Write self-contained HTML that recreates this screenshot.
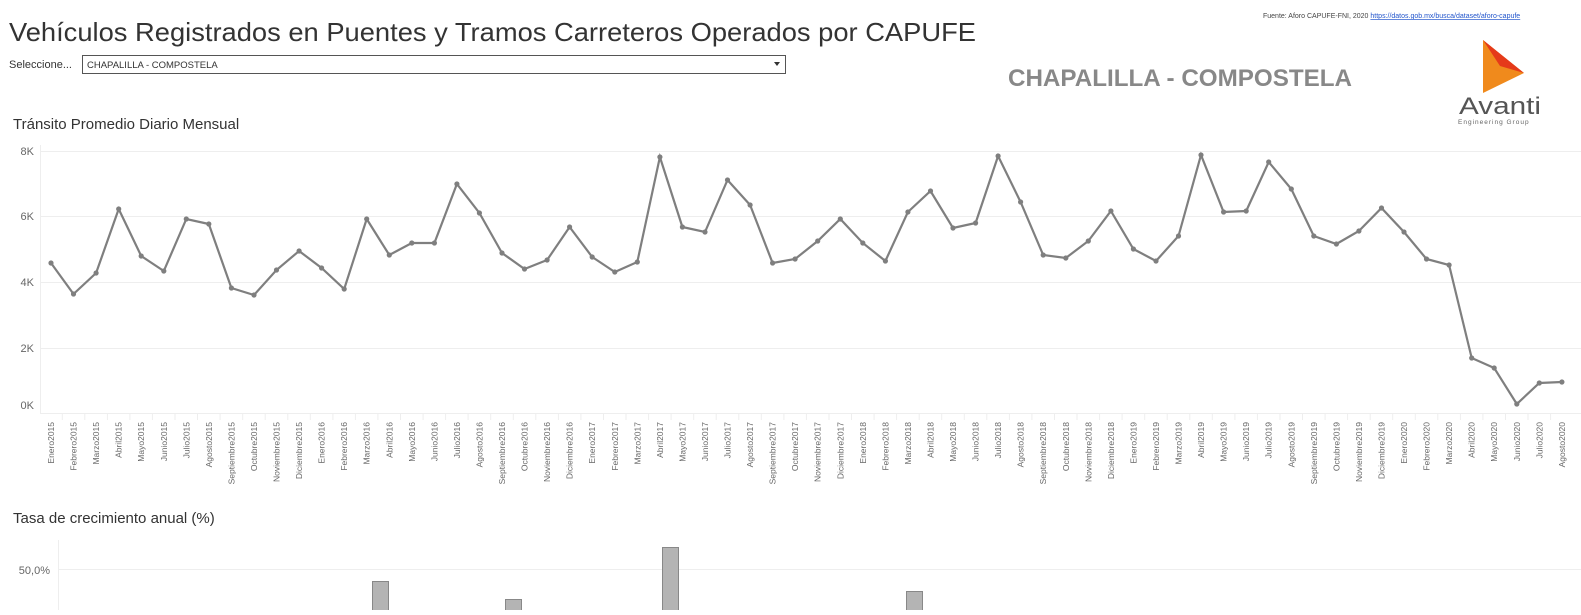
<!DOCTYPE html>
<html><head><meta charset="utf-8"><style>
body{margin:0;background:#fff;width:1581px;height:610px;overflow:hidden;font-family:"Liberation Sans",sans-serif;}
</style></head><body>
<svg width="1581" height="610" xmlns="http://www.w3.org/2000/svg" font-family="Liberation Sans, sans-serif">
<text x="9" y="41" font-size="26" fill="#333" textLength="967" lengthAdjust="spacingAndGlyphs">Vehículos Registrados en Puentes y Tramos Carreteros Operados por CAPUFE</text>
<text x="9" y="68" font-size="11" fill="#333">Seleccione...</text>
<rect x="82.5" y="55.5" width="703" height="18" fill="#fff" stroke="#555"/>
<text x="87" y="68" font-size="9.5" fill="#333">CHAPALILLA - COMPOSTELA</text>
<polygon points="774,62 780,62 777,66" fill="#333"/>
<text x="1263" y="18" font-size="7" fill="#444">Fuente: Aforo CAPUFE-FNI, 2020 <tspan fill="#2255cc" text-decoration="underline">https://datos.gob.mx/busca/dataset/aforo-capufe</tspan></text>
<text x="1008" y="86" font-size="24" font-weight="bold" fill="#888" textLength="344" lengthAdjust="spacingAndGlyphs">CHAPALILLA - COMPOSTELA</text>
<polygon points="1483,40 1483,93 1524,73" fill="#f08a1c"/>
<polygon points="1483,40 1524,73 1500,66" fill="#e53a1a"/>
<text x="1459" y="114" font-size="24" fill="#555" textLength="82" lengthAdjust="spacingAndGlyphs">Avanti</text>
<text x="1458" y="124" font-size="6.5" fill="#666" letter-spacing="1">Engineering Group</text>
<text x="13" y="129" font-size="15" fill="#333">Tránsito Promedio Diario Mensual</text>
<g stroke="#eee" stroke-width="1">
<line x1="40" y1="151.5" x2="1581" y2="151.5"/><line x1="40" y1="216.5" x2="1581" y2="216.5"/>
<line x1="40" y1="282.5" x2="1581" y2="282.5"/><line x1="40" y1="348.5" x2="1581" y2="348.5"/>
<line x1="40" y1="413.5" x2="1581" y2="413.5"/><line x1="40.5" y1="145" x2="40.5" y2="413"/>
</g>
<g font-size="11" fill="#666" text-anchor="end">
<text x="34" y="155">8K</text><text x="34" y="220">6K</text><text x="34" y="286">4K</text><text x="34" y="352">2K</text><text x="34" y="409">0K</text>
</g>
<g id="bars" fill="#b4b4b4" stroke="#888">
<line x1="58.5" y1="540" x2="58.5" y2="610" stroke="#eee"/>
<line x1="58" y1="569.5" x2="1581" y2="569.5" stroke="#eee"/>
<rect x="372.5" y="581.5" width="16" height="30"/>
<rect x="505.5" y="599.5" width="16" height="20"/>
<rect x="662.5" y="547.5" width="16" height="70"/>
<rect x="906.5" y="591.5" width="16" height="30"/>
</g>
<text x="13" y="523" font-size="15" fill="#333">Tasa de crecimiento anual (%)</text>
<text x="50" y="574" font-size="11" fill="#666" text-anchor="end">50,0%</text>
<g id="chart"></g>
</svg>
<script>
var y=[263,294,273,209,256,271,219,224,288,295,270,251,268,289,219,255,243,243,184,213,253,269,260,227,257,272,262,157,227,232,180,205,263,259,241,219,243,261,212,191,228,223,156,202,255,258,241,211,249,261,236,155,212,211,162,189,236,244,231,208,232,259,265,358,368,404,383,382];
var m=["Enero","Febrero","Marzo","Abril","Mayo","Junio","Julio","Agosto","Septiembre","Octubre","Noviembre","Diciembre"];
var s="",pts=[];
for(var i=0;i<68;i++){var x=51+i*22.55;pts.push(x.toFixed(1)+","+y[i]);
s+='<circle cx="'+x.toFixed(1)+'" cy="'+y[i]+'" r="2.6" fill="#7f7f7f"/>';
var yr=2015+Math.floor(i/12);
s+='<text transform="translate('+(x+3).toFixed(1)+',422) rotate(-90)" font-size="8.5" fill="#666" text-anchor="end">'+m[i%12]+yr+'</text>';
if(i>0)s+='<line x1="'+(x-11.3).toFixed(1)+'" y1="414" x2="'+(x-11.3).toFixed(1)+'" y2="420" stroke="#eee"/>';}
s='<polyline points="'+pts.join(" ")+'" fill="none" stroke="#7f7f7f" stroke-width="2.2"/>'+s;
document.getElementById("chart").innerHTML=s;
</script>
</body></html>
